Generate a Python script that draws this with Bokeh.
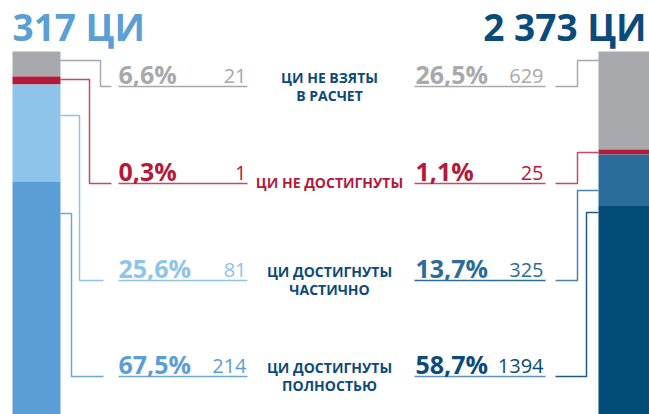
from bokeh.plotting import figure
from bokeh.models import Range1d, ColumnDataSource
from bokeh.core.properties import value
from bokeh.embed import file_html
from bokeh.resources import INLINE

# ---------------- data ----------------
categories = [["ЦИ НЕ ВЗЯТЫ", "В РАСЧЕТ"],
              ["ЦИ НЕ ДОСТИГНУТЫ"],
              ["ЦИ ДОСТИГНУТЫ", "ЧАСТИЧНО"],
              ["ЦИ ДОСТИГНУТЫ", "ПОЛНОСТЬЮ"]]
left_total = 317
right_total = 2373
left_pct = [6.6, 0.3, 25.6, 67.5]
left_cnt = [21, 1, 81, 214]
right_pct = [26.5, 1.1, 13.7, 58.7]
right_cnt = [629, 25, 325, 1394]

# ---------------- style / layout ----------------
FONT = "Open Sans"
left_colors = ["#A7A9AC", "#B5193A", "#8EC3EA", "#5B9ED6"]
right_colors = ["#A7A9AC", "#B5193A", "#2A6C9A", "#024C79"]
left_text_colors = ["#A7A9AC", "#B5193A", "#8EC3EA", "#5B9ED6"]
right_text_colors = ["#A7A9AC", "#B5193A", "#2A6C9A", "#0B4A79"]
left_line_colors = ["#A7A9AC", "#C24A66", "#8EC3EA", "#6AA6DA"]
right_line_colors = ["#A7A9AC", "#C24A66", "#4A82AD", "#1F5A86"]
right_under_colors = ["#A7A9AC", "#C24A66", "#2A6C9A", "#5B93C8"]
center_colors = ["#0B4A79", "#B5193A", "#0B4A79", "#0B4A79"]
LEFT_TITLE_COLOR = "#5B9FD5"
RIGHT_TITLE_COLOR = "#0B4A79"

BAR_TOP = 51
LEFT_X = (12, 60)
RIGHT_X = (598, 652)
LEFT_SCALE, RIGHT_SCALE = 3.79, 3.70   # px per percent
LEFT_MIN, RIGHT_MIN = 8, 5             # minimum visible segment height
ROW_Y = [86, 183, 280, 376]            # underline rows
LEFT_ANCHOR = [60, 79, 115, 213]
LEFT_ELBOW = [100, 89, 79, 71]
LEFT_END = [111, 111, 103, 103]
LEFT_START = [53, 60, 60, 60]
RIGHT_ANCHOR = [60, 152, 190, 212]
RIGHT_ELBOW = [577, 577, 577, 586]
RIGHT_START = [606, 598, 598, 598]
RIGHT_END = 555
L_UNDER = (118, 247)
R_UNDER = (414, 545)
CENTER_X = 329
BASE_SHIFT = 0.34   # em, compensates renderer baseline placement

W, H = 649, 414
p = figure(width=W, height=H, output_backend="svg", toolbar_location=None,
           x_range=Range1d(0, W), y_range=Range1d(H, 0),
           x_axis_location=None, y_axis_location=None, min_border=0)
p.grid.visible = False
p.outline_line_color = None
p.background_fill_color = "white"
p.border_fill_color = "white"


def stack(pcts, scale, min_px):
    tops, bottoms = [], []
    y = BAR_TOP
    for v in pcts:
        h = max(v * scale, min_px)
        tops.append(y)
        bottoms.append(y + h)
        y += h
    return tops, bottoms


lt, lb = stack(left_pct, LEFT_SCALE, LEFT_MIN)
rt, rb = stack(right_pct, RIGHT_SCALE, RIGHT_MIN)

p.quad(source=ColumnDataSource(dict(left=[LEFT_X[0]] * 4, right=[LEFT_X[1]] * 4,
                                    top=lt, bottom=lb, c=left_colors)),
       left="left", right="right", top="top", bottom="bottom",
       fill_color="c", line_color=None)
p.quad(source=ColumnDataSource(dict(left=[RIGHT_X[0]] * 4, right=[RIGHT_X[1]] * 4,
                                    top=rt, bottom=rb, c=right_colors)),
       left="left", right="right", top="top", bottom="bottom",
       fill_color="c", line_color=None)


def fmt_pct(v):
    return f"{v:.1f}%".replace(".", ",")


def fmt_total(v):
    return f"{v:,}".replace(",", " ")


def txt(xs, ys, texts, size, color, align, bold=False):
    p.text(x=xs, y=[y - BASE_SHIFT * size for y in ys], text=texts,
           text_font=value(FONT), text_font_style="bold" if bold else "normal",
           text_font_size=f"{size}px", text_color=color,
           text_baseline="alphabetic", text_align=align)


for i in range(4):
    ry = ROW_Y[i]
    # left connector
    p.line([LEFT_START[i], LEFT_ELBOW[i], LEFT_ELBOW[i], LEFT_END[i]],
           [LEFT_ANCHOR[i], LEFT_ANCHOR[i], ry, ry],
           line_color=left_line_colors[i], line_width=1.5)
    p.line(list(L_UNDER), [ry, ry], line_color=left_line_colors[i], line_width=1.5)
    # right connector
    p.line([RIGHT_START[i], RIGHT_ELBOW[i], RIGHT_ELBOW[i], RIGHT_END],
           [RIGHT_ANCHOR[i], RIGHT_ANCHOR[i], ry, ry],
           line_color=right_line_colors[i], line_width=1.5)
    p.line(list(R_UNDER), [ry, ry], line_color=right_under_colors[i], line_width=1.5)

    # left labels
    txt([L_UNDER[0]], [ry - 4], [fmt_pct(left_pct[i])], 25, left_text_colors[i], "left", True)
    txt([L_UNDER[1] - 1], [ry - 4], [str(left_cnt[i])], 20, left_text_colors[i], "right")
    # right labels
    txt([R_UNDER[0] + 1], [ry - 4], [fmt_pct(right_pct[i])], 25, right_text_colors[i], "left", True)
    txt([R_UNDER[1] - 2], [ry - 4], [str(right_cnt[i])], 20, right_text_colors[i], "right")

    # center category label
    lines = categories[i]
    ys = [ry + 4] if len(lines) == 1 else [ry - 4, ry + 14]
    txt([CENTER_X] * len(lines), ys, lines, 14, center_colors[i], "center", True)

# titles
txt([LEFT_X[0]], [39], [f"{fmt_total(left_total)} ЦИ"], 37, LEFT_TITLE_COLOR, "left", True)
txt([646], [39], [f"{fmt_total(right_total)} ЦИ"], 37, RIGHT_TITLE_COLOR, "right", True)

open("out.html", "w").write(file_html(p, INLINE))
